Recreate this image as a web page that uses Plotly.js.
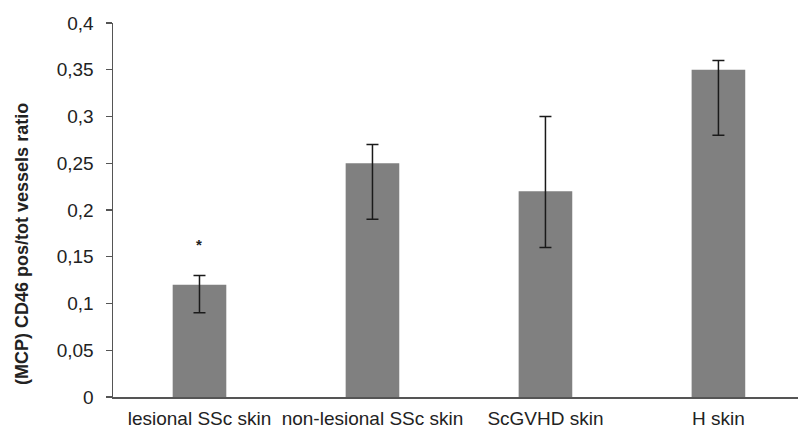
<!DOCTYPE html>
<html>
<head>
<meta charset="utf-8">
<script src="https://cdn.plot.ly/plotly-3.0.1.min.js"></script>
<style>html,body{margin:0;padding:0;background:#fff;}#chart{width:798px;height:429px;}</style>
</head>
<body>
<div id="chart"></div>
<script>
var categories = ["lesional SSc skin", "non-lesional SSc skin", "ScGVHD skin", "H skin"];
var meanValues = [0.12, 0.25, 0.22, 0.35];
var errorUpper = [0.01, 0.02, 0.08, 0.01];
var errorLower = [0.03, 0.06, 0.06, 0.07];
var yTickValues = [0, 0.05, 0.1, 0.15, 0.2, 0.25, 0.3, 0.35, 0.4];
var significanceMarks = ["*", "", "", ""];
var significanceY = [0.163, null, null, null];

var axisColor = "#555555";
var font = "Liberation Sans, Arial, sans-serif";

var trace = {
  type: "bar",
  x: categories,
  y: meanValues,
  width: 0.31,
  marker: {color: "#808080", line: {width: 0}},
  error_y: {
    type: "data",
    symmetric: false,
    array: errorUpper,
    arrayminus: errorLower,
    color: "#1a1a1a",
    thickness: 1.5,
    width: 6
  },
  hoverinfo: "skip"
};

var annotations = [];
for (var i = 0; i < categories.length; i++) {
  if (significanceMarks[i]) {
    annotations.push({
      x: categories[i], y: significanceY[i], xref: "x", yref: "y",
      text: significanceMarks[i], showarrow: false,
      xanchor: "center", yanchor: "middle",
      font: {family: font, size: 15, color: "#222", weight: "bold"}
    });
  }
}
annotations.push({
  xref: "paper", yref: "paper", x: -0.133, y: 0.409,
  text: "(MCP) CD46 pos/tot vessels ratio",
  textangle: -90, showarrow: false,
  xanchor: "center", yanchor: "middle",
  font: {family: font, size: 18, color: "#222", weight: "bold"}
});

var layout = {
  width: 798, height: 429,
  margin: {l: 113, r: 0, t: 23, b: 32, pad: 0},
  paper_bgcolor: "#ffffff",
  plot_bgcolor: "#ffffff",
  separators: ",.",
  showlegend: false,
  font: {family: font, size: 19, color: "#222"},
  xaxis: {
    type: "category",
    range: [-0.5, 3.46],
    showline: true, linecolor: axisColor, linewidth: 1.5,
    ticks: "", showgrid: false, zeroline: false,
    ticklabelstandoff: 4,
    tickfont: {family: font, size: 19, color: "#222"},
    fixedrange: true
  },
  yaxis: {
    range: [0, 0.4],
    tickvals: yTickValues,
    showline: true, linecolor: axisColor, linewidth: 1.5,
    ticks: "outside", ticklen: 6, tickwidth: 1.2, tickcolor: axisColor,
    ticklabelstandoff: 8,
    showgrid: false, zeroline: false,
    tickfont: {family: font, size: 19, color: "#222"},
    fixedrange: true
  },
  annotations: annotations
};

Plotly.newPlot("chart", [trace], layout, {displayModeBar: false, staticPlot: true});
</script>
</body>
</html>
